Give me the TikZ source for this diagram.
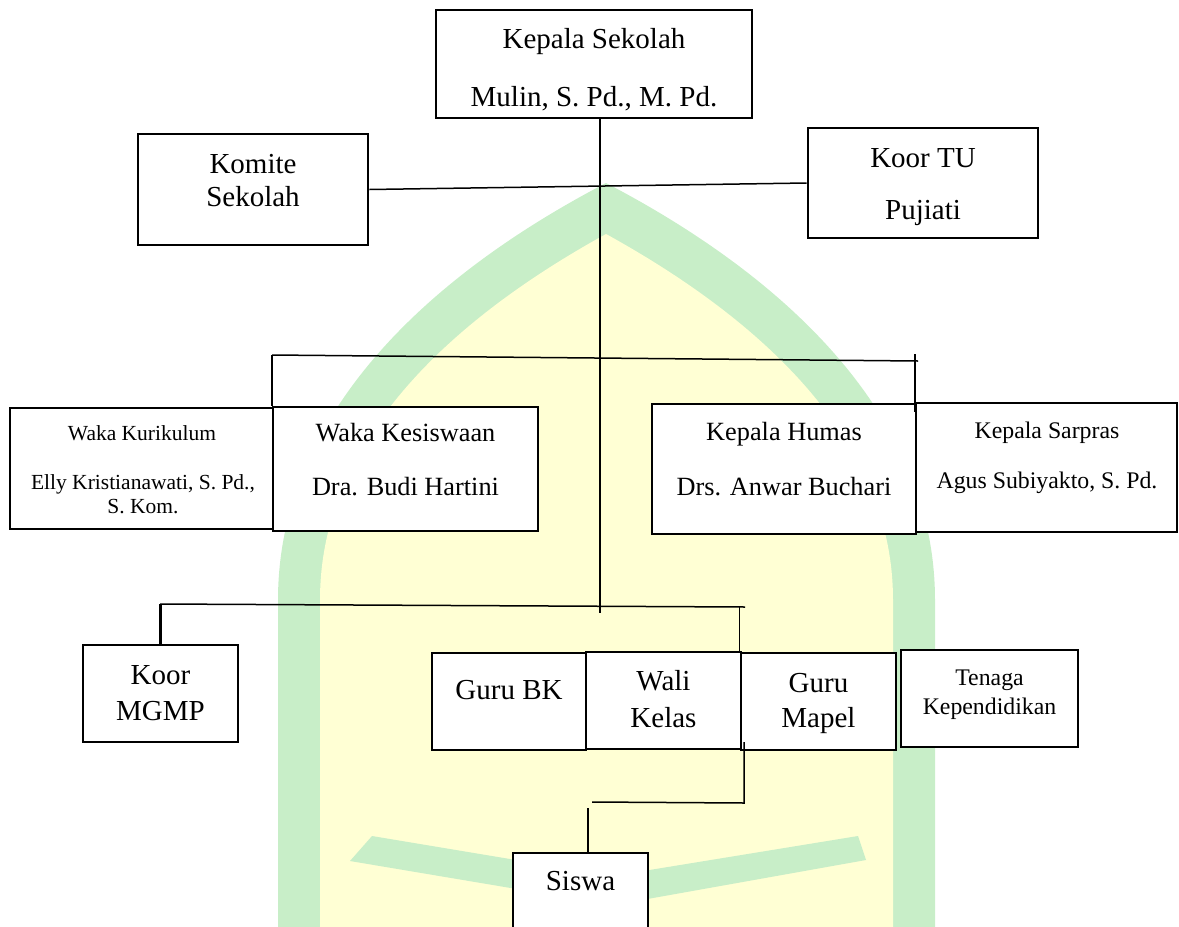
\documentclass[tikz,border=0pt]{standalone}
\usepackage{fontspec}
\setmainfont{Liberation Serif}
\definecolor{wmgreen}{RGB}{200,238,200}
\definecolor{wmyellow}{RGB}{255,255,212}
\begin{document}
\begin{tikzpicture}[x=1pt,y=-1pt,
  box/.style={draw=black, line width=2.6pt, fill=white, inner sep=0pt, rectangle},
  conn/.style={draw=black, line width=1.5pt},
  tick/.style={draw=black, line width=2.2pt},
  big/.style={anchor=base, inner sep=0pt, font=\fontsize{29}{34}\selectfont},
  mid/.style={anchor=base, inner sep=0pt, font=\fontsize{26.3}{30}\selectfont},
  small/.style={anchor=base, inner sep=0pt, font=\fontsize{21.5}{25}\selectfont},
  smallb/.style={anchor=base, inner sep=0pt, font=\fontsize{23.8}{28}\selectfont},
]
\useasboundingbox (0,0) rectangle (1179,927);
\clip (0,0) rectangle (1179,927);
% watermark
\fill[wmgreen] (278,930) -- (278,600) .. controls (278,420) and (420,280) .. (606,183) .. controls (792,280) and (935,420) .. (935,600) -- (935,930) -- cycle;
\fill[wmyellow] (320,930) -- (320,600) .. controls (320,440) and (450,320) .. (606,234) .. controls (762,320) and (893,440) .. (893,600) -- (893,930) -- cycle;
\fill[wmgreen] (350,861) -- (372,836) -- (600,874) -- (600,903) -- cycle;
\fill[wmgreen] (866,860) -- (858,836) -- (625,874) -- (625,903) -- cycle;
% boxes
\node[box, minimum width=316, minimum height=108] (kepala) at (594,64) {};
\node[box, minimum width=230, minimum height=111] (komite) at (253,189.5) {};
\node[box, minimum width=230, minimum height=110] (koortu) at (923,183) {};
\node[box, minimum width=263, minimum height=121] (kurikulum) at (141.5,468.5) {};
\node[box, minimum width=265, minimum height=124] (kesiswaan) at (405.5,469) {};
\node[box, minimum width=264, minimum height=130] (humas) at (784,469) {};
\node[box, minimum width=261, minimum height=129] (sarpras) at (1046.5,467.5) {};
\node[box, minimum width=155, minimum height=97] (mgmp) at (160.5,693.5) {};
\node[box, minimum width=154, minimum height=97] (gurubk) at (509,701.5) {};
\node[box, minimum width=155, minimum height=97] (wali) at (663.5,700.5) {};
\node[box, minimum width=155, minimum height=97] (mapel) at (818.5,701.5) {};
\node[box, minimum width=177, minimum height=97] (tenaga) at (989.5,698.5) {};
\node[box, minimum width=135, minimum height=107] (siswa) at (580.5,906.5) {};
% texts
\node[big] (tkepala1) at (594,48) {Kepala Sekolah};
\node[big] (tkepala2) at (594,106) {Mulin, S. Pd., M. Pd.};
\node[big] (tkomite1) at (253,173) {Komite};
\node[big] (tkomite2) at (253,206) {Sekolah};
\node[big] (ttu1) at (923,167) {Koor TU};
\node[big] (ttu2) at (923,219) {Pujiati};
\node[small] (tkur1) at (142,440) {Waka Kurikulum};
\node[small] (tkur2) at (143,489) {Elly Kristianawati, S. Pd.,};
\node[small] (tkur3) at (143,513) {S. Kom.};
\node[mid] (tkes1) at (405.5,441) {Waka Kesiswaan};
\node[mid] (tkes2) at (405.5,495) {Dra. Budi Hartini};
\node[mid] (thum1) at (784,440) {Kepala Humas};
\node[mid] (thum2) at (784,495) {Drs. Anwar Buchari};
\node[smallb] (tsar1) at (1047,438) {Kepala Sarpras};
\node[smallb] (tsar2) at (1047,488) {Agus Subiyakto, S. Pd.};
\node[big] (tmg1) at (160.5,684) {Koor};
\node[big] (tmg2) at (160.5,720) {MGMP};
\node[big] (tbk) at (509,699) {Guru BK};
\node[big] (twali1) at (663.5,690) {Wali};
\node[big] (twali2) at (663.5,727) {Kelas};
\node[big] (tmap1) at (818.5,692) {Guru};
\node[big] (tmap2) at (818.5,727) {Mapel};
\node[smallb] (tten1) at (989.5,685) {Tenaga};
\node[smallb] (tten2) at (989.5,714) {Kependidikan};
\node[big] (tsiswa) at (580.5,890) {Siswa};
% connectors
\coordinate (v1end) at (600,613);
\draw[conn] (kepala.south -| v1end) -- (v1end);
\draw[conn] (komite.east) -- (koortu.west);
\coordinate (h1L) at (272,355);
\coordinate (h1R) at (918,361);
\draw[conn] (h1L) -- (h1R);
\draw[tick] (kesiswaan.north west |- h1L) -- (kesiswaan.north west);
\coordinate (t1) at (915,354);
\coordinate (t2) at (915,412);
\draw[tick] (t1) -- (t2);
\coordinate (h2L) at (160,604);
\coordinate (h2R) at (745,607);
\draw[conn] (h2L) -- (h2R);
\draw[tick] (mgmp.north |- h2L) -- (mgmp.north);
\draw[conn] (mapel.north west |- h2R) -- (mapel.north west);
\coordinate (s1) at (744,742);
\coordinate (s2) at (744,803);
\coordinate (s3) at (592,802);
\coordinate (s4) at (588,808);
\draw[conn] (s1) -- (s2) -- (s3);
\draw[conn] (s4) -- (s4 |- siswa.north);
\end{tikzpicture}
\end{document}
